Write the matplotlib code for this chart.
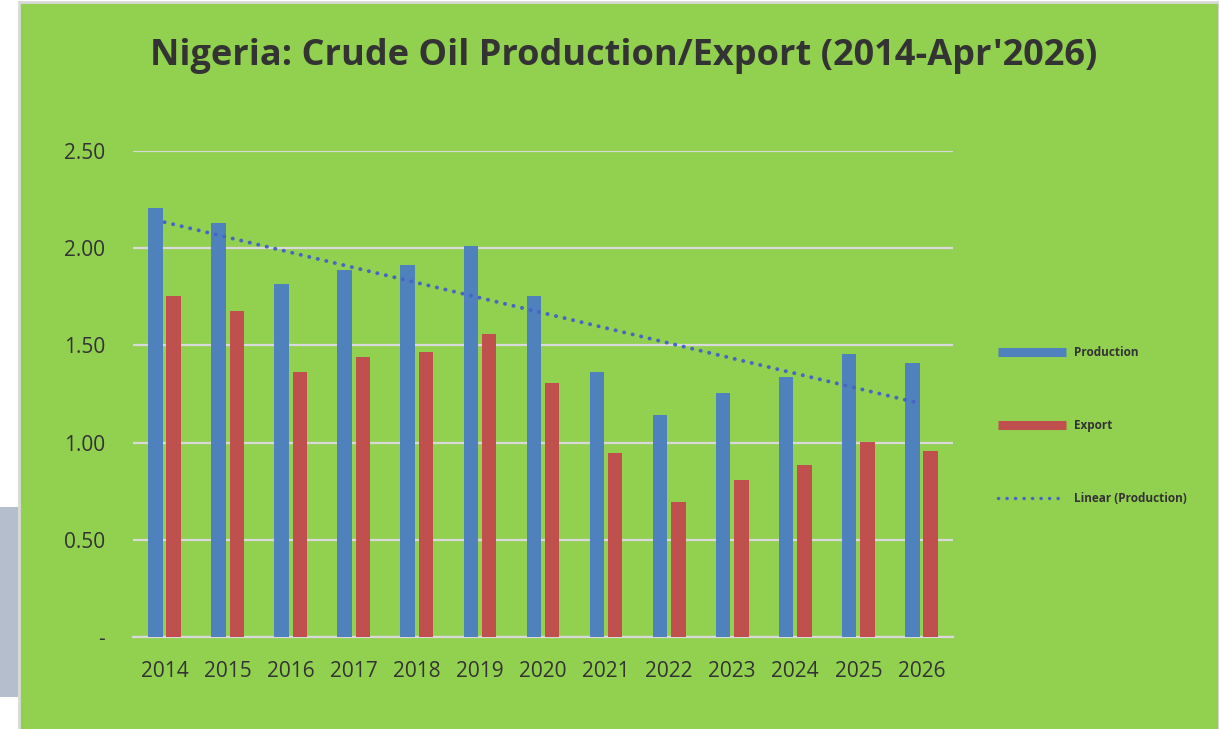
import numpy as np
import matplotlib
matplotlib.use("Agg")
import matplotlib.pyplot as plt
from matplotlib.patches import Rectangle
from matplotlib.lines import Line2D

years = ["2014", "2015", "2016", "2017", "2018", "2019", "2020",
         "2021", "2022", "2023", "2024", "2025", "2026"]
production = [2.205, 2.128, 1.816, 1.888, 1.914, 2.010, 1.754,
              1.361, 1.142, 1.253, 1.336, 1.456, 1.408]
export = [1.754, 1.677, 1.365, 1.439, 1.464, 1.559, 1.305,
          0.948, 0.693, 0.808, 0.885, 1.005, 0.958]
yticks = [0.0, 0.5, 1.0, 1.5, 2.0, 2.5]
ytick_labels = ["-", "0.50", "1.00", "1.50", "2.00", "2.50"]

BLUE = "#4F81BD"
RED = "#C0504D"
GREEN = "#92D050"
GRID = "#D9D9D9"
TXT = "#333333"
TREND = "#4666C4"

W, H = 1219, 729
fig = plt.figure(figsize=(W / 100, H / 100), dpi=100, facecolor="white")

# background panels
bg = fig.add_axes([0, 0, 1, 1], zorder=-10)
bg.set_xlim(0, W)
bg.set_ylim(H, 0)
bg.axis("off")
bg.add_patch(Rectangle((0, 507), 20, 190, facecolor="#B4BECC", edgecolor="none"))
bg.add_patch(Rectangle((19, 2), W - 19, H, facecolor=GREEN, edgecolor=GRID, linewidth=2))

# main axes: x 133..953, y 151..637 (pixels)
ax = fig.add_axes([133 / W, 1 - 637 / H, (953 - 133) / W, (637 - 151) / H])
ax.set_facecolor("none")
x = np.arange(len(years))
bw = 0.23
off = 0.145
ax.bar(x - off, production, width=bw, color=BLUE, edgecolor="none", zorder=3, label="Production")
ax.bar(x + off, export, width=bw, color=RED, edgecolor="none", zorder=3, label="Export")

slope, intercept = np.polyfit(x, production, 1)
ax.plot(x, slope * x + intercept, linestyle=(0, (0.05, 2.2)), color=TREND,
        linewidth=2.8, dash_capstyle="round", zorder=4)

ax.set_xlim(-0.5, len(years) - 0.5)
ax.set_ylim(0, 2.5)
ax.set_yticks(yticks)
ax.set_yticklabels(ytick_labels)
ax.set_xticks(x)
ax.set_xticklabels(years)
ax.grid(axis="y", color=GRID, linewidth=1.6, zorder=0)
ax.set_axisbelow(True)
for s in ["top", "right", "left"]:
    ax.spines[s].set_visible(False)
ax.spines["bottom"].set_color(GRID)
ax.spines["bottom"].set_linewidth(1.6)
ax.tick_params(axis="both", length=0, labelsize=15, labelcolor=TXT, labelfontfamily="Open Sans")
ax.tick_params(axis="y", pad=20)
ax.tick_params(axis="x", pad=17)
for lbl in ax.get_yticklabels():
    lbl.set_horizontalalignment("right")

fig.text(624 / W, 1 - 56 / H, "Nigeria: Crude Oil Production/Export (2014-Apr'2026)",
         ha="center", va="center", fontsize=26, fontweight="bold",
         color=TXT, family="Open Sans")

# legend
leg_items = [
    (352, "Production", dict(color=BLUE, linewidth=6.5, solid_capstyle="butt")),
    (425, "Export", dict(color=RED, linewidth=6.5, solid_capstyle="butt")),
    (498, "Linear (Production)", dict(color=TREND, linewidth=2.5, linestyle=(0, (0.05, 2.4)),
                                      dash_capstyle="round")),
]
for yy, text, kw in leg_items:
    bg.add_line(Line2D([998, 1066], [yy, yy], **kw))
    bg.text(1074, yy, text, ha="left", va="center", fontsize=8.5, fontweight="bold",
            color=TXT, family="Open Sans")

fig.savefig("out.png", dpi=100, facecolor="white")
